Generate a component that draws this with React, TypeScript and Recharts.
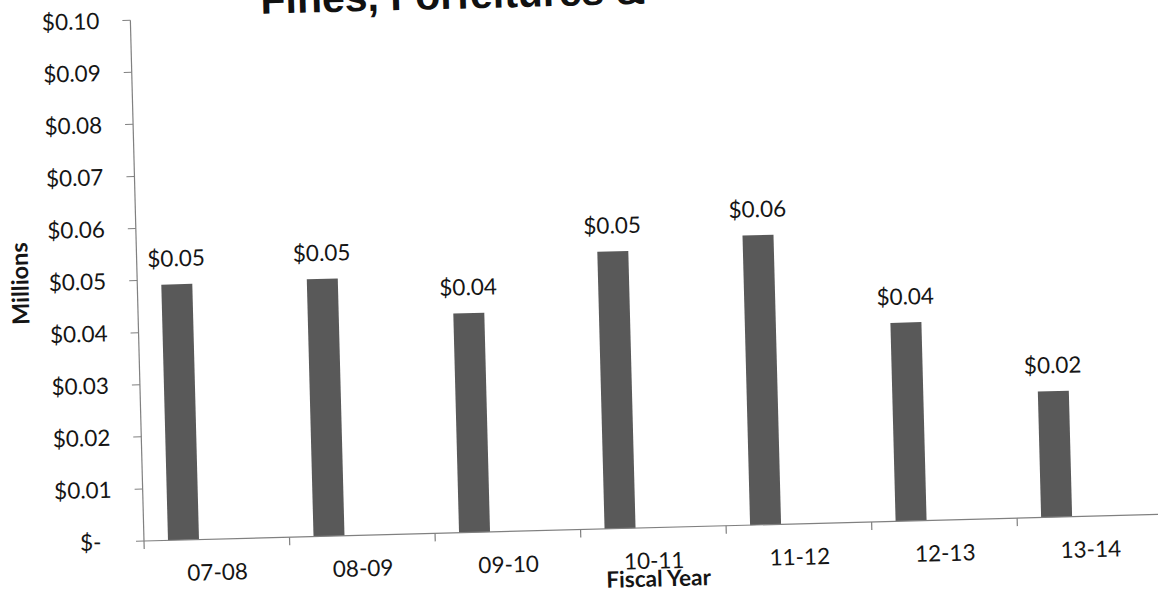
import { BarChart, Bar, XAxis, YAxis, LabelList, Label } from "recharts";

// Fines & forfeitures by fiscal year, in millions of dollars
const fiscalYears = ["07-08", "08-09", "09-10", "10-11", "11-12", "12-13", "13-14"];
const finesMillions = [0.0491, 0.0494, 0.0421, 0.0532, 0.0556, 0.0381, 0.0242];
// the source workbook keeps two more columns per year that were never filled in
const secondColumn = [null, null, null, null, null, null, null];
const thirdColumn = [null, null, null, null, null, null, null];

const yTicks = [0, 0.01, 0.02, 0.03, 0.04, 0.05, 0.06, 0.07, 0.08, 0.09, 0.1];

const data = fiscalYears.map((year, i) => ({
  year,
  fines: finesMillions[i],
  second: secondColumn[i],
  third: thirdColumn[i],
}));

const FONT = "Lato, 'Open Sans', sans-serif";
const AXIS = "#808080";
const INK = "#151515";

const money = (v: number) => (v === 0 ? "$-\u00a0\u00a0" : `$${v.toFixed(2)}`);

// year label at the band centre, tick marks on the band edges (Excel style)
function YearTick(props: any) {
  const { x, y, payload, width, visibleTicksCount, index } = props;
  const half = width / visibleTicksCount / 2;
  const last = index === visibleTicksCount - 1;
  return (
    <g>
      <line x1={x - half} x2={x - half} y1={y} y2={y + 8} stroke={AXIS} strokeWidth={1.2} />
      {last && (
        <line x1={x + half} x2={x + half} y1={y} y2={y + 8} stroke={AXIS} strokeWidth={1.2} />
      )}
      <text
        x={x}
        y={y + 25}
        dy="0.71em"
        textAnchor="middle"
        fontFamily={FONT}
        fontSize={22.5}
        fill={INK}
      >
        {payload.value}
      </text>
    </g>
  );
}

export default function App() {
  return (
    <div
      style={{
        position: "fixed",
        left: 0,
        top: 0,
        width: 1158,
        height: 589,
        overflow: "hidden",
        background: "#fff",
      }}
    >
      <div
        style={{
          position: "relative",
          width: 1200,
          height: 620,
          transform: "rotate(-1.5deg)",
          transformOrigin: "144px 541px",
        }}
      >
        <BarChart
          width={1200}
          height={620}
          data={data}
          margin={{ top: 20, right: 37, bottom: 9, left: 0 }}
          barSize={31}
          barGap={2}
        >
          <XAxis
            dataKey="year"
            type="category"
            interval={0}
            height={70}
            tickSize={0}
            tickMargin={0}
            tickLine={false}
            tick={<YearTick />}
            axisLine={{ stroke: AXIS, strokeWidth: 1.2 }}
          >
            <Label
              content={({ viewBox }: any) => (
                <text
                  x={viewBox.x + viewBox.width / 2 + 4}
                  y={viewBox.y + 51}
                  dy="0.35em"
                  textAnchor="middle"
                  fontFamily={FONT}
                  fontSize={22.5}
                  fontWeight={700}
                  fill={INK}
                >
                  Fiscal Year
                </text>
              )}
            />
          </XAxis>
          <YAxis
            width={144}
            domain={[0, 0.1]}
            ticks={yTicks}
            interval={0}
            tickFormatter={money}
            tickSize={8}
            tickMargin={23}
            tick={{ fontFamily: FONT, fontSize: 22.5, fill: INK }}
            tickLine={{ stroke: AXIS }}
            axisLine={{ stroke: AXIS, strokeWidth: 1.2 }}
          >
            <Label
              content={({ viewBox }: any) => {
                const cx = 27;
                const cy = viewBox.y + viewBox.height / 2;
                return (
                  <text
                    x={cx}
                    y={cy}
                    dy="0.35em"
                    textAnchor="middle"
                    transform={`rotate(-90 ${cx} ${cy})`}
                    fontFamily={FONT}
                    fontSize={23.5}
                    fontWeight={700}
                    fill={INK}
                  >
                    Millions
                  </text>
                );
              }}
            />
          </YAxis>
          <Bar dataKey="fines" fill="#595959" isAnimationActive={false}>
            <LabelList
              dataKey="fines"
              position="top"
              offset={18}
              formatter={(v: any) => money(Number(v))}
              style={{ fontFamily: FONT, fontSize: 22.5, fill: INK }}
            />
          </Bar>
          <Bar dataKey="second" fill="#a6a6a6" isAnimationActive={false} />
          <Bar dataKey="third" fill="#d9d9d9" isAnimationActive={false} />
        </BarChart>
        <svg
          width={1200}
          height={620}
          style={{ position: "absolute", left: 0, top: 0, pointerEvents: "none" }}
        >
          <text
            x={467}
            y={17}
            textAnchor="middle"
            fontFamily="'Liberation Sans', Arial, sans-serif"
            fontSize={41}
            fontWeight={700}
            fill="#111"
          >
            Fines, Forfeitures &amp;
          </text>
        </svg>
      </div>
    </div>
  );
}
